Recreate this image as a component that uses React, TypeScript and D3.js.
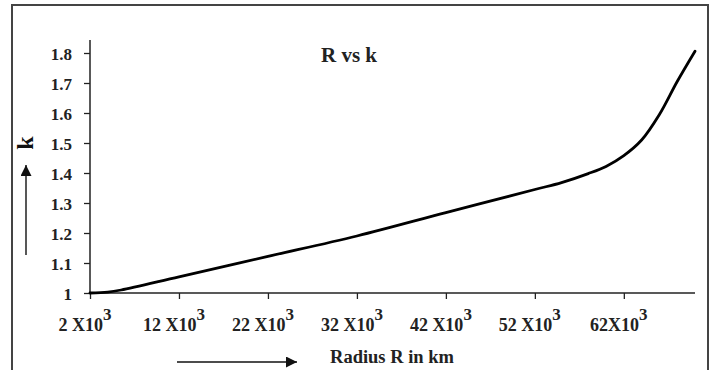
import React, { useEffect, useRef } from 'react';
import * as d3 from 'd3';

// radius in thousands of km
const radius = [2, 4, 5.5, 12, 22, 32, 42, 52, 55, 58, 60, 62, 64, 66, 68, 70];
const kValues = [1.0, 1.003, 1.01, 1.054, 1.122, 1.19, 1.268, 1.345, 1.368, 1.398, 1.422, 1.458, 1.51, 1.595, 1.705, 1.806];

const xTicks = [2, 12, 22, 32, 42, 52, 62];
const xTickText = ['2 X10', '12 X10', '22 X10', '32 X10', '42 X10', '52 X10', '62X10'];
const yTicks = [1, 1.1, 1.2, 1.3, 1.4, 1.5, 1.6, 1.7, 1.8];
const yTickText = ['1', '1.1', '1.2', '1.3', '1.4', '1.5', '1.6', '1.7', '1.8'];

const FONT = '"Liberation Serif", "Times New Roman", serif';

export default function App() {
  const svgRef = useRef<SVGSVGElement>(null);

  useEffect(() => {
    const svg = d3.select(svgRef.current);
    svg.selectAll('*').remove();

    const x = d3.scaleLinear().domain([2, 70]).range([90, 695]);
    const y = d3.scaleLinear().domain([1, 1.8]).range([293, 53]);

    // outer frame
    svg.append('rect')
      .attr('x', 12).attr('y', 5)
      .attr('width', 696).attr('height', 380)
      .attr('fill', '#fff')
      .attr('stroke', '#444')
      .attr('stroke-width', 2);

    // axes
    const yAxis = svg.append('g').attr('transform', `translate(${x(2)},0)`)
      .call(d3.axisLeft(y).tickValues(yTicks).tickSize(6).tickSizeOuter(0)
        .tickFormat((d, i) => yTickText[i]));
    yAxis.select('.domain').attr('d', `M0,${y(1)}V${y(1.843)}`);
    yAxis.selectAll('line').attr('stroke', '#222').attr('stroke-width', 1.3);
    yAxis.select('.domain').attr('stroke', '#222').attr('stroke-width', 1.5);
    yAxis.selectAll('text')
      .attr('x', -18)
      .attr('dy', '0.36em')
      .attr('fill', '#222')
      .style('font', `bold 17px ${FONT}`);

    const xAxis = svg.append('g').attr('transform', `translate(0,${y(1)})`)
      .call(d3.axisBottom(x).tickValues(xTicks).tickSize(6).tickSizeOuter(0)
        .tickFormat(() => ''));
    xAxis.select('.domain').attr('d', `M${x(2)},0H${x(70)}`)
      .attr('stroke', '#222').attr('stroke-width', 1.5);
    xAxis.selectAll('line').attr('stroke', '#222').attr('stroke-width', 1.3);

    const xl = svg.append('g');
    xTicks.forEach((t, i) => {
      const txt = xl.append('text')
        .attr('x', x(t) - 5)
        .attr('y', 331)
        .attr('text-anchor', 'middle')
        .attr('fill', '#222')
        .style('font', `bold 18px ${FONT}`);
      txt.append('tspan').text(xTickText[i]);
      txt.append('tspan').attr('dy', -11).style('font-size', '17px').text('3');
    });

    // curve
    const pts = radius.map((r, i) => [r, kValues[i]] as [number, number]);
    svg.append('path')
      .datum(pts)
      .attr('fill', 'none')
      .attr('stroke', '#000')
      .attr('stroke-width', 2.8)
      .attr('stroke-linecap', 'round')
      .attr('d', d3.line<[number, number]>()
        .x(d => x(d[0]))
        .y(d => y(d[1]))
        .curve(d3.curveCatmullRom.alpha(0.5)));

    // title
    svg.append('text')
      .attr('x', 349).attr('y', 62)
      .attr('text-anchor', 'middle')
      .attr('fill', '#222')
      .style('font', `bold 21px ${FONT}`)
      .text('R vs k');

    // axis titles
    svg.append('text')
      .attr('x', 392).attr('y', 363)
      .attr('text-anchor', 'middle')
      .attr('fill', '#222')
      .style('font', `bold 18.5px ${FONT}`)
      .text('Radius R in km');

    svg.append('text')
      .attr('transform', 'translate(33,143) rotate(-90)')
      .attr('text-anchor', 'middle')
      .attr('fill', '#111')
      .style('font', `bold 24px ${FONT}`)
      .text('k');

    // arrows
    const defs = svg.append('defs');
    defs.append('marker')
      .attr('id', 'arrowhead')
      .attr('viewBox', '0 0 10 10')
      .attr('refX', 10).attr('refY', 5)
      .attr('markerUnits', 'userSpaceOnUse')
      .attr('markerWidth', 12).attr('markerHeight', 11)
      .attr('orient', 'auto')
      .append('path').attr('d', 'M0,0L10,5L0,10Z').attr('fill', '#111');

    svg.append('line')
      .attr('x1', 26).attr('y1', 255).attr('x2', 26).attr('y2', 165)
      .attr('stroke', '#111').attr('stroke-width', 1.4)
      .attr('marker-end', 'url(#arrowhead)');
    svg.append('line')
      .attr('x1', 177).attr('y1', 362).attr('x2', 297).attr('y2', 362)
      .attr('stroke', '#111').attr('stroke-width', 1.4)
      .attr('marker-end', 'url(#arrowhead)');
  }, []);

  return (
    <svg ref={svgRef} width={714} height={370}
      style={{ position: 'absolute', left: 0, top: 0, background: '#fff' }} />
  );
}
